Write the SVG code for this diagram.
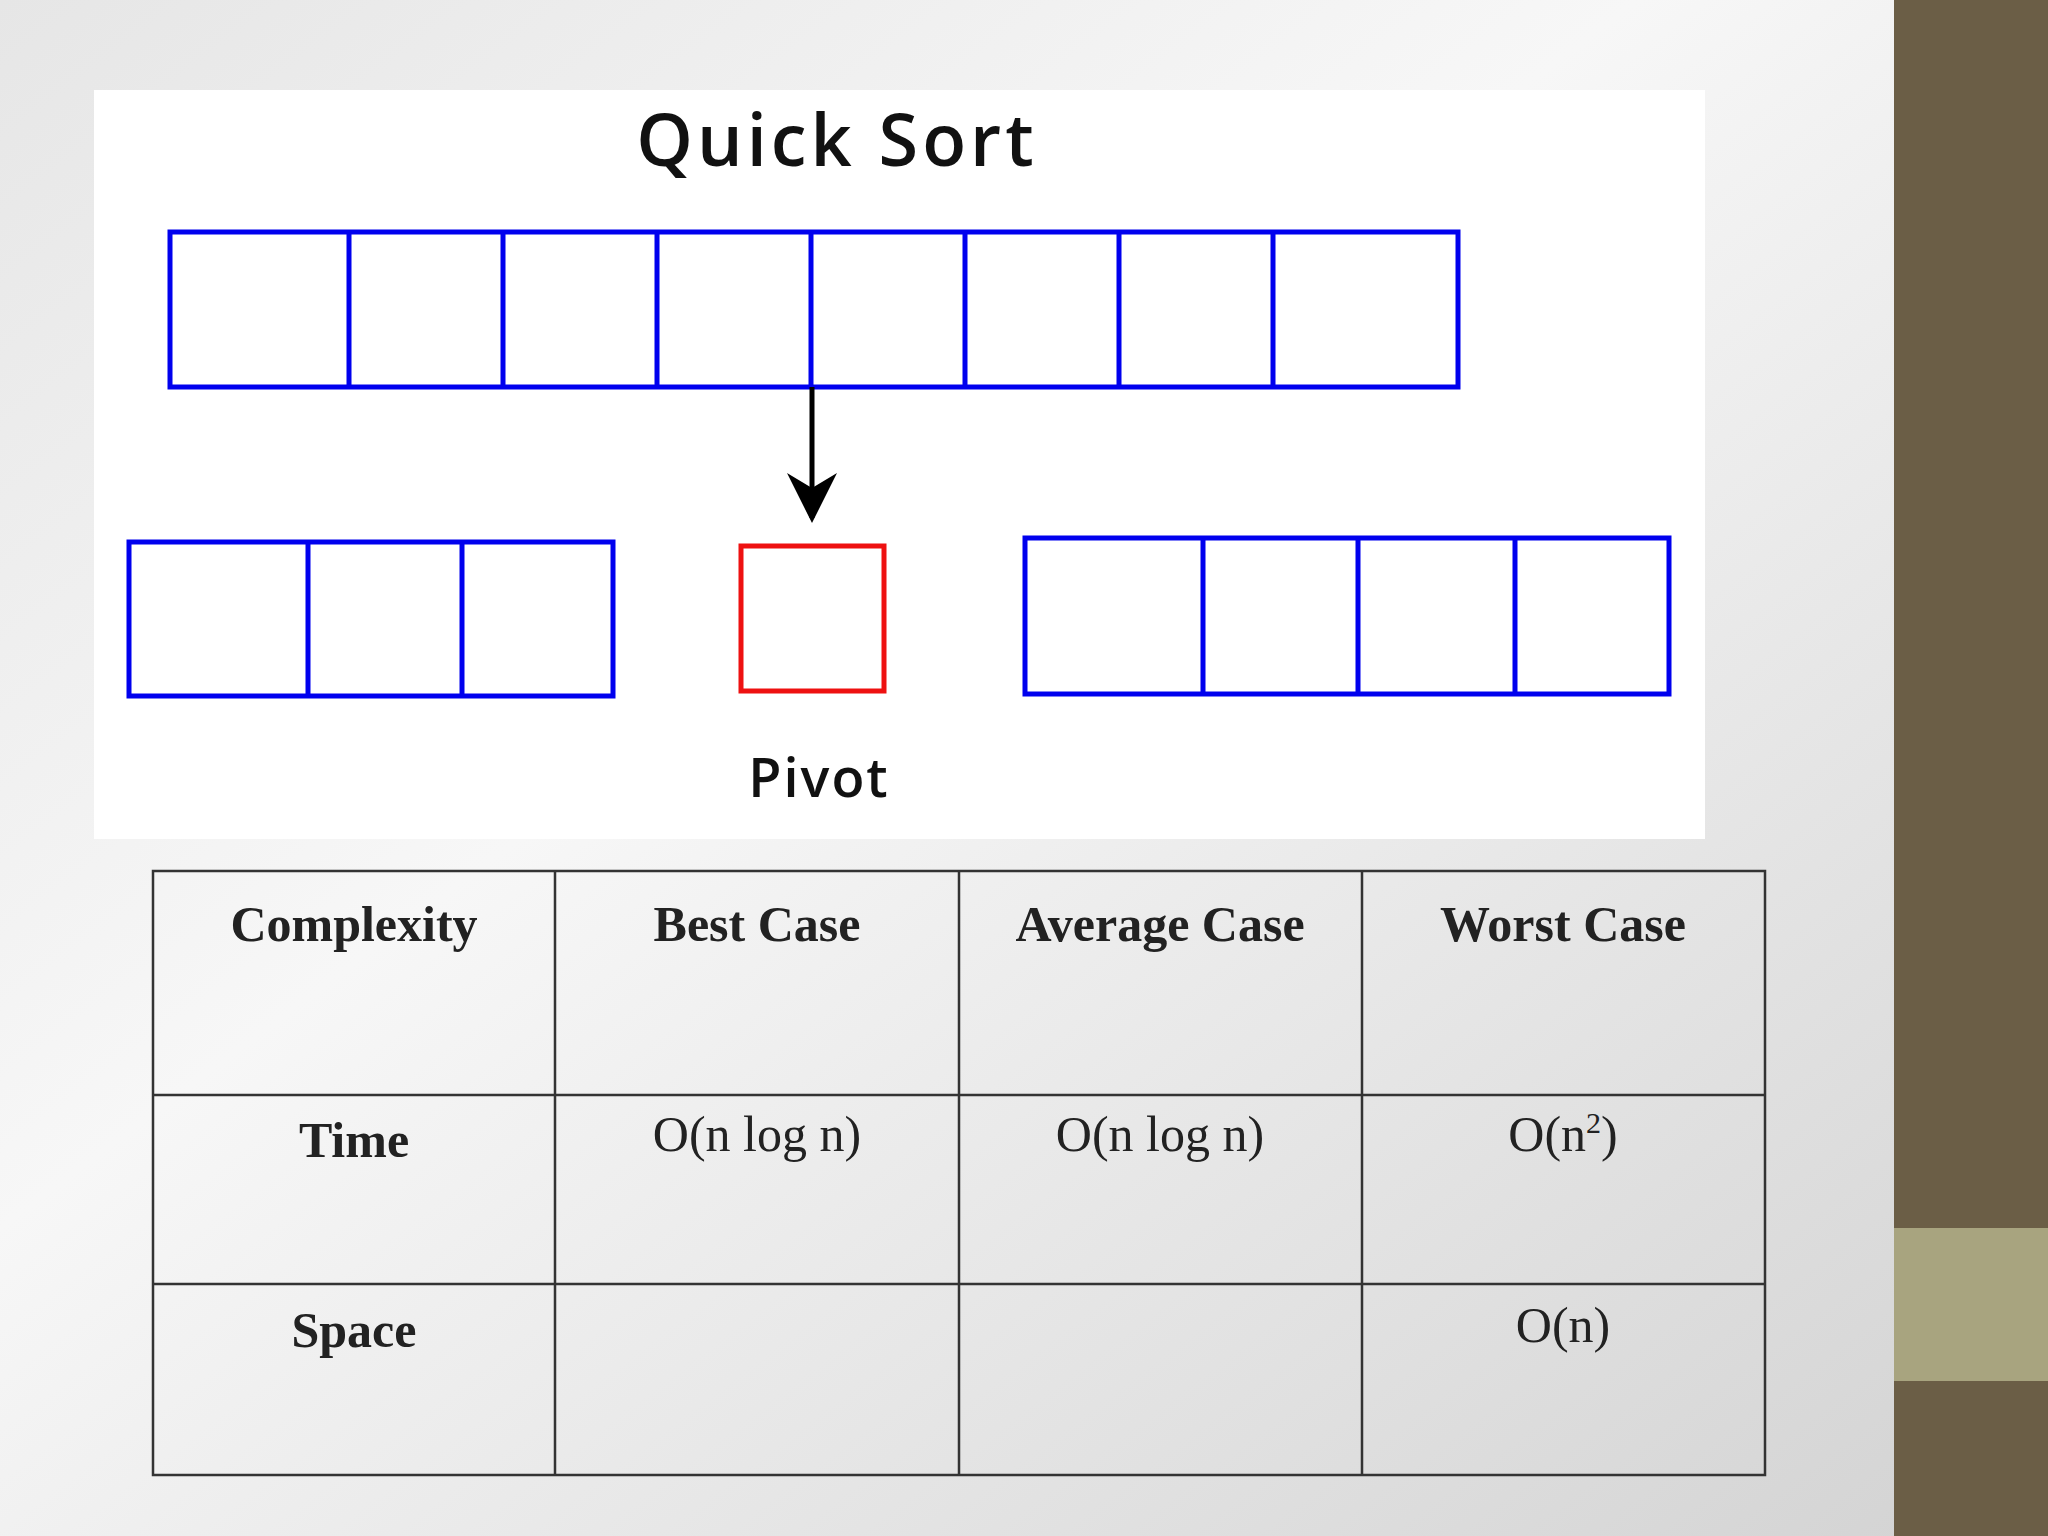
<svg xmlns="http://www.w3.org/2000/svg" width="2048" height="1536" viewBox="0 0 2048 1536">
<defs>
<linearGradient id="bg" x1="0" y1="0" x2="1" y2="1"><stop offset="0" stop-color="#e6e6e6"/><stop offset="0.4" stop-color="#f7f7f7"/><stop offset="1" stop-color="#d2d2d2"/></linearGradient>
<marker id="ah" viewBox="0 0 10 10" refX="9" refY="5" markerWidth="10" markerHeight="10" markerUnits="strokeWidth" orient="auto"><path d="M0,0 L10,5 L0,10 L3,5 z" fill="#000"/></marker>
</defs>
<style>
.b{fill:none;stroke:#0000ee;stroke-width:5}
.r{fill:none;stroke:#ee1111;stroke-width:5}
.g{fill:none;stroke:#333;stroke-width:2.5}
.h{font-family:"Liberation Serif",serif;font-weight:bold;font-size:50px;fill:#222;text-anchor:middle}
.v{font-family:"Liberation Serif",serif;font-size:50px;fill:#222;text-anchor:middle}
.m{font-family:"Open Sans",sans-serif;font-weight:600;fill:#111;text-anchor:middle}
</style>
<rect width="2048" height="1536" fill="url(#bg)"/>
<rect x="1894" y="0" width="154" height="1536" fill="#6b5e46"/>
<rect x="1894" y="1228" width="154" height="153" fill="#a8a47f"/>
<rect x="94" y="90" width="1611" height="749" fill="#fff"/>
<text class="m" x="837" y="166" font-size="72" letter-spacing="4">Quick Sort</text>
<g id="top"><rect class="b" x="170" y="232" width="1288" height="155"/>
<path class="b" d="M349,232V387M503,232V387M657,232V387M811,232V387M965,232V387M1119,232V387M1273,232V387"/></g>
<g id="left"><rect class="b" x="129" y="542" width="484" height="154"/><path class="b" d="M308,542V696M462,542V696"/></g>
<g id="pivot"><rect class="r" x="741" y="546" width="143" height="145"/><text class="m" x="819" y="797" font-size="54" letter-spacing="2">Pivot</text></g>
<g id="right"><rect class="b" x="1025" y="538" width="644" height="156"/><path class="b" d="M1203,538V694M1358,538V694M1515,538V694"/></g>
<g id="connectors"><line x1="812" y1="387" x2="812" y2="518" stroke="#000" stroke-width="5" marker-end="url(#ah)"/></g>
<g id="table">
<rect class="g" x="153" y="871" width="1612" height="604"/>
<path class="g" d="M555,871V1475M959,871V1475M1362,871V1475M153,1095H1765M153,1284H1765"/>
<text class="h" x="354" y="941">Complexity</text>
<text class="h" x="757" y="941">Best Case</text>
<text class="h" x="1160" y="941">Average Case</text>
<text class="h" x="1563" y="941">Worst Case</text>
<text class="h" x="354" y="1157">Time</text>
<text class="v" x="757" y="1151">O(n log n)</text>
<text class="v" x="1160" y="1151">O(n log n)</text>
<text class="v" x="1563" y="1151">O(n<tspan font-size="30" dy="-18">2</tspan><tspan dy="18">)</tspan></text>
<text class="h" x="354" y="1347">Space</text>
<text class="v" x="1563" y="1342">O(n)</text>
</g>
</svg>
